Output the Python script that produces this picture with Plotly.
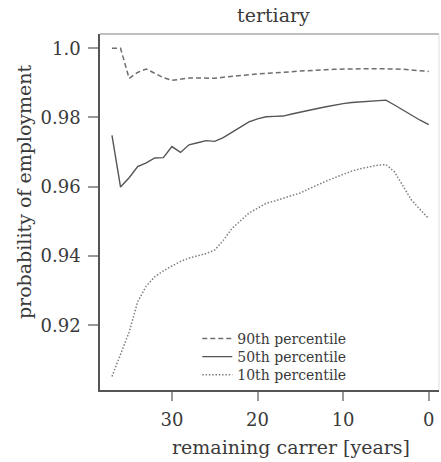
import plotly.graph_objects as go

years = list(range(37, -1, -1))

p90 = [1.0, 1.0, 0.9913, 0.9930, 0.9940, 0.9928, 0.9915, 0.9907, 0.9910, 0.9914,
       0.9914, 0.9914, 0.9913, 0.9916, 0.9919, 0.9922, 0.9924, 0.9926, 0.9927, 0.9928,
       0.9930, 0.9932, 0.9934, 0.9936, 0.9937, 0.9938, 0.9939, 0.9940, 0.9940, 0.9941,
       0.9941, 0.9941, 0.9941, 0.9940, 0.9939, 0.9937, 0.9935, 0.9933]

p50 = [0.9748, 0.9599, 0.9626, 0.9658, 0.9669, 0.9683, 0.9684, 0.9716, 0.9699, 0.9721,
       0.9727, 0.9733, 0.9731, 0.9742, 0.9757, 0.9772, 0.9787, 0.9796, 0.9802, 0.9803,
       0.9804, 0.9810, 0.9816, 0.9821, 0.9826, 0.9831, 0.9836, 0.9840, 0.9843, 0.9845,
       0.9847, 0.9848, 0.9850, 0.9836, 0.9821, 0.9806, 0.9792, 0.9779]

p10 = [0.9052, 0.9115, 0.9180, 0.9268, 0.9313, 0.9340, 0.9357, 0.9371, 0.9384, 0.9394,
       0.9401, 0.9407, 0.9417, 0.9445, 0.9479, 0.9502, 0.9524, 0.9538, 0.9552, 0.9559,
       0.9566, 0.9573, 0.9582, 0.9594, 0.9606, 0.9616, 0.9626, 0.9636, 0.9645, 0.9652,
       0.9657, 0.9662, 0.9664, 0.9643, 0.9602, 0.9561, 0.9534, 0.9508]

series_names = ["90th percentile", "50th percentile", "10th percentile"]
x_ticks = [30, 20, 10, 0]
y_ticks = [0.92, 0.94, 0.96, 0.98, 1.0]
y_tick_labels = ["0.92", "0.94", "0.96", "0.98", "1.0"]

FONT = "DejaVu Serif"
TXT = "#3a3a3a"

fig = go.Figure()
fig.add_trace(go.Scatter(x=years, y=p90, mode="lines", name=series_names[0],
                         legend="legend",
                         line=dict(color="#6e6e6e", width=1.5, dash="5px,3px")))
fig.add_trace(go.Scatter(x=years, y=p50, mode="lines", name=series_names[1],
                         legend="legend2",
                         line=dict(color="#555555", width=1.4)))
fig.add_trace(go.Scatter(x=years, y=p10, mode="lines", name=series_names[2],
                         legend="legend3",
                         line=dict(color="#7e7e7e", width=1.5, dash="1.5px,1.8px")))

leg_common = dict(x=0.287, xanchor="left", yanchor="middle",
                  bgcolor="rgba(0,0,0,0)", borderwidth=0,
                  font=dict(size=14, color=TXT), itemwidth=30)

fig.update_layout(
    width=441, height=462,
    margin=dict(l=100, r=2, t=34, b=72),
    paper_bgcolor="white", plot_bgcolor="white",
    font=dict(family=FONT, color=TXT, size=19),
    showlegend=True,
    legend=dict(y=0.1435, **leg_common),
    legend2=dict(y=0.0925, **leg_common),
    legend3=dict(y=0.0415, **leg_common),
    xaxis=dict(range=[38.4, -1.2], tickvals=x_ticks, ticks="outside", ticklen=9,
               tickcolor="#999", tickwidth=1.5, showgrid=False, zeroline=False,
               showline=True, linecolor="#555", linewidth=1.5,
               tickfont=dict(size=18, color=TXT), ticklabelstandoff=4),
    yaxis=dict(range=[0.9013, 1.0041], tickvals=y_ticks, ticktext=y_tick_labels,
               ticks="outside", ticklen=10, tickcolor="#999", tickwidth=1.5,
               showgrid=False, zeroline=False, showline=True, linecolor="#555",
               linewidth=1.5, tickfont=dict(size=18, color=TXT),
               ticklabelstandoff=4),
    shapes=[
        dict(type="line", xref="paper", yref="paper", x0=0, x1=1, y0=1, y1=1,
             line=dict(color="#aaa", width=1.5)),
        dict(type="line", xref="paper", yref="paper", x0=1, x1=1, y0=0, y1=1,
             line=dict(color="#ddd", width=1)),
    ],
    annotations=[
        dict(text="tertiary", xref="paper", yref="paper", x=0.513, y=1.0,
             xanchor="center", yanchor="middle", yshift=19, showarrow=False,
             font=dict(size=19, color=TXT)),
        dict(text="remaining carrer [years]", xref="paper", yref="paper", x=0.563, y=0,
             xanchor="center", yanchor="middle", yshift=-57, showarrow=False,
             font=dict(size=19, color=TXT)),
        dict(text="probability of employment", xref="paper", yref="paper", x=0,
             xshift=-76, y=0.556, xanchor="center", yanchor="middle", textangle=-90,
             showarrow=False, font=dict(size=19, color=TXT)),
    ],
)

fig.write_html("out.html")
